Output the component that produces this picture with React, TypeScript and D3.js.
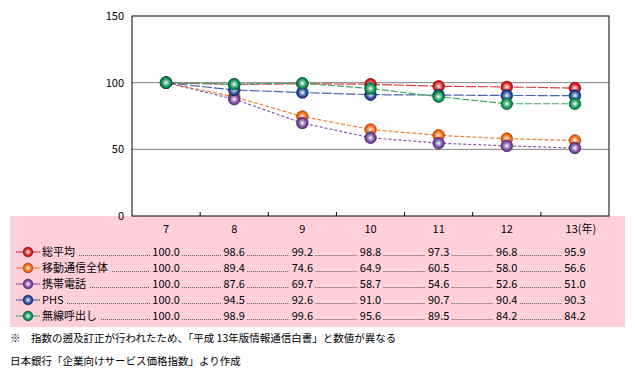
import React from "react";
import * as d3 from "d3";

const years = ["7", "8", "9", "10", "11", "12", "13"];
const yearLabels = ["7", "8", "9", "10", "11", "12", "13(年)"];
const seriesNames = ["総平均", "移動通信全体", "携帯電話", "PHS", "無線呼出し"];
const sougou = [100.0, 98.6, 99.2, 98.8, 97.3, 96.8, 95.9];
const idou = [100.0, 89.4, 74.6, 64.9, 60.5, 58.0, 56.6];
const keitai = [100.0, 87.6, 69.7, 58.7, 54.6, 52.6, 51.0];
const phs = [100.0, 94.5, 92.6, 91.0, 90.7, 90.4, 90.3];
const musen = [100.0, 98.9, 99.6, 95.6, 89.5, 84.2, 84.2];
const yTicks = [0, 50, 100, 150];
const footnote = "※　指数の遡及訂正が行われたため、「平成 13年版情報通信白書」と数値が異なる";
const source = "日本銀行「企業向けサービス価格指数」より作成";

const seriesValues = [sougou, idou, keitai, phs, musen];
const lineColors = ["#e04040", "#f08030", "#8a5aa8", "#4466b0", "#40a868"];
const markColors = ["#d01010", "#f05a00", "#6a3a90", "#1a3a90", "#008a48"];
const dashes = ["10,2", "4,2", "3,2", "10,2", "7,2"];

const FONT = "'Noto Sans CJK JP', 'Noto Sans', sans-serif";

export default function App() {
  const W = 635, H = 376;
  const left = 132, right = 609, top = 16, bottom = 216;
  const x = d3.scaleBand<string>().domain(years).range([left, right]);
  const y = d3.scaleLinear().domain([0, 150]).range([bottom, top]);
  const cx = (i: number) => (x(years[i]) as number) + x.bandwidth() / 2;
  const line = d3.line<number>().x((_, i) => cx(i)).y((v) => y(v));
  const rowY = [252, 268, 284, 300, 316];
  const halfW = (v: number) => (v >= 100 ? 14 : 11);

  return (
    <svg width={W} height={H} style={{ position: "absolute", left: 0, top: 0, background: "#fff" }} fontFamily={FONT}>
      <defs>
        {markColors.map((c, i) => (
          <radialGradient id={`g${i}`} key={i} cx="50%" cy="50%" r="55%" fx="50%" fy="50%">
            <stop offset="0%" stopColor="#ffffff" />
            <stop offset="35%" stopColor={d3.interpolateRgb("#ffffff", c)(0.55)} />
            <stop offset="75%" stopColor={c} />
            <stop offset="100%" stopColor={d3.color(c)!.darker(0.6).toString()} />
          </radialGradient>
        ))}
      </defs>
      <rect x={10} y={216} width={615} height={111} fill="#ffd0da" />
      {[50, 100].map((t) => (
        <line key={t} x1={left} x2={right} y1={y(t)} y2={y(t)} stroke="#808080" strokeWidth={1} />
      ))}
      <rect x={left} y={top} width={right - left} height={bottom - top} fill="none" stroke="#000" strokeWidth={1} />
      {yTicks.map((t) => (
        <text key={t} x={left - 8} y={y(t) + 4} textAnchor="end" fontSize={11} fill="#000">{t}</text>
      ))}
      {years.slice(1).map((yr) => (
        <line key={yr} x1={x(yr)} x2={x(yr)} y1={bottom} y2={bottom - 4} stroke="#000" />
      ))}
      {seriesValues.map((vals, si) => (
        <path key={si} d={line(vals) || ""} fill="none" stroke={lineColors[si]} strokeWidth={1.2} strokeDasharray={dashes[si]} />
      ))}
      {seriesValues.map((vals, si) => (
        <g key={si}>
          {vals.map((v, i) => (
            <circle key={i} cx={cx(i)} cy={y(v)} r={5.8} fill={`url(#g${si})`} stroke={d3.color(markColors[si])!.darker(0.8).toString()} strokeWidth={0.8} />
          ))}
        </g>
      ))}
      {yearLabels.map((l, i) => (
        <text key={l} x={i === 6 ? cx(i) + 6 : cx(i)} y={233} textAnchor="middle" fontSize={11}>{l}</text>
      ))}
      {seriesNames.map((name, si) => (
        <g key={name}>
          <line x1={16} x2={40} y1={rowY[si]} y2={rowY[si]} stroke={lineColors[si]} strokeWidth={1.2} />
          <circle cx={28} cy={rowY[si]} r={4.8} fill={`url(#g${si})`} stroke={d3.color(markColors[si])!.darker(0.8).toString()} strokeWidth={0.8} />
          <text x={42} y={rowY[si] + 4} fontSize={11}>{name}</text>
          {seriesValues[si].map((v, i) => {
            const startX = i === 0 ? 42 + name.length * (name === "PHS" ? 7 : 11) + 4 : cx(i - 1) + halfW(seriesValues[si][i - 1]) + 2;
            const endX = cx(i) - halfW(v) - 2;
            return (
              <line key={i} x1={startX} x2={endX} y1={rowY[si] + 3.5} y2={rowY[si] + 3.5} stroke="#333" strokeWidth={0.8} strokeDasharray="1,1" />
            );
          })}
          {seriesValues[si].map((v, i) => (
            <text key={i} x={cx(i)} y={rowY[si] + 4} textAnchor="middle" fontSize={11}>{v.toFixed(1)}</text>
          ))}
        </g>
      ))}
      <text x={10} y={342} fontSize={10.5}>{footnote}</text>
      <text x={10} y={365} fontSize={10.5}>{source}</text>
    </svg>
  );
}
